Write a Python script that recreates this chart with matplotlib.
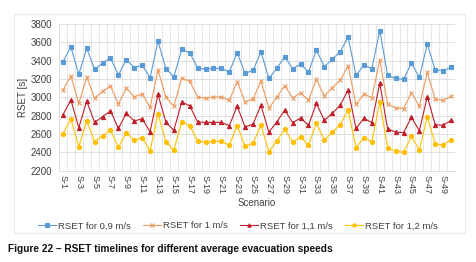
import matplotlib
matplotlib.use('Agg')
import matplotlib.pyplot as plt
import numpy as np
from matplotlib.patches import Rectangle

plt.rcParams['font.family'] = ['Liberation Sans', 'DejaVu Sans']

scenarios = [f"S-{i}" for i in range(1, 51)]

rset_09 = [3390, 3550, 3250, 3535, 3305, 3375, 3430, 3245, 3410, 3325,
           3350, 3215, 3612, 3312, 3225, 3522, 3488, 3322, 3305, 3315,
           3315, 3278, 3488, 3262, 3295, 3495, 3207, 3315, 3444, 3312,
           3362, 3276, 3516, 3335, 3415, 3498, 3655, 3240, 3353, 3313,
           3727, 3240, 3207, 3196, 3371, 3218, 3582, 3298, 3291, 3327]
rset_10 = [3080, 3233, 2935, 3218, 2993, 3065, 3124, 2927, 3100, 3007,
           3036, 2891, 3298, 3000, 2905, 3207, 3175, 3007, 2989, 3004,
           3004, 2967, 3171, 2949, 2982, 3178, 2880, 3004, 3127, 2996,
           3047, 2969, 3196, 3015, 3105, 3185, 3345, 2924, 3036, 2996,
           3407, 2924, 2887, 2876, 3051, 2902, 3273, 2978, 2967, 3011]
rset_11 = [2811, 2971, 2669, 2960, 2727, 2789, 2851, 2662, 2825, 2742,
           2767, 2625, 3033, 2727, 2640, 2949, 2909, 2731, 2727, 2727,
           2727, 2691, 2905, 2676, 2709, 2913, 2622, 2731, 2862, 2724,
           2775, 2695, 2935, 2749, 2825, 2913, 3080, 2662, 2771, 2724,
           3153, 2655, 2622, 2615, 2782, 2636, 3007, 2702, 2695, 2749]
rset_12 = [2604, 2760, 2462, 2745, 2516, 2582, 2644, 2455, 2615, 2531,
           2560, 2418, 2822, 2513, 2425, 2731, 2691, 2527, 2509, 2520,
           2520, 2480, 2691, 2465, 2498, 2698, 2407, 2524, 2651, 2513,
           2567, 2480, 2716, 2535, 2618, 2702, 2862, 2451, 2560, 2516,
           2945, 2447, 2415, 2400, 2575, 2425, 2789, 2491, 2484, 2535]

series = [
    ("RSET for 0,9 m/s", rset_09, "#5B9BD5", "s"),
    ("RSET for 1 m/s", rset_10, "#ED9A5E", "x"),
    ("RSET for 1,1 m/s", rset_11, "#C0202A", "^"),
    ("RSET for 1,2 m/s", rset_12, "#FFC000", "o"),
]

fig = plt.figure(figsize=(4.76, 2.62), dpi=100)
fig.patch.set_facecolor("white")

# faint chart-area frame
fig.patches.append(Rectangle((14 / 476, 1 - 233 / 262), 451 / 476, 219 / 262,
                             transform=fig.transFigure, fill=False,
                             edgecolor="#EBEBEB", linewidth=0.8))

ax = fig.add_axes([59 / 476, 1 - 170.7 / 262, 396 / 476, 146.7 / 262])

x = np.arange(1, len(scenarios) + 1)
for label, vals, color, marker in series:
    ax.plot(x, vals, color=color, linewidth=0.8, marker=marker,
            markersize=3 if marker != "x" else 3.2, markeredgewidth=0.8,
            label=label)

ax.set_xlim(0.5, 50.5)
ax.set_ylim(2200, 3800)
ax.set_yticks(np.arange(2200, 3801, 200))
ax.set_xticks(x[::2])
ax.set_xticklabels(scenarios[::2], rotation=-90, fontsize=6.5, color="#404040")
ax.set_xticks(np.arange(0.5, 51, 1), minor=True)
ax.tick_params(axis="y", labelsize=7, labelcolor="#404040", length=0, pad=5)
ax.tick_params(axis="x", which="both", length=0, pad=3)

ax.grid(True, axis="y", color="#D9D9D9", linewidth=0.6)
ax.grid(True, axis="x", which="minor", color="#E3E3E3", linewidth=0.6)
ax.set_axisbelow(True)
for sp in ax.spines.values():
    sp.set_visible(False)
for side in ("left", "bottom"):
    ax.spines[side].set_visible(True)
    ax.spines[side].set_color("#D9D9D9")
    ax.spines[side].set_linewidth(0.6)

ax.set_ylabel("RSET [s]", fontsize=7, color="#404040", labelpad=2)
fig.text(257 / 476, 1 - 203 / 262, "Scenario", fontsize=7, color="#404040",
         ha="center", va="center")

fig.legend(loc="center", bbox_to_anchor=(238 / 476, 1 - 226 / 262), ncol=4,
           frameon=False, fontsize=6.8, handlelength=1.9, columnspacing=1.3,
           handletextpad=0.2, markerscale=0.8, labelcolor="#404040")

fig.text(8 / 476, 1 - 249 / 262,
         "Figure 22 \u2013 RSET timelines for different average evacuation speeds",
         fontsize=7.3, fontweight="bold", color="#111111", ha="left", va="center")

fig.savefig("out.png", dpi=100, facecolor="white")
